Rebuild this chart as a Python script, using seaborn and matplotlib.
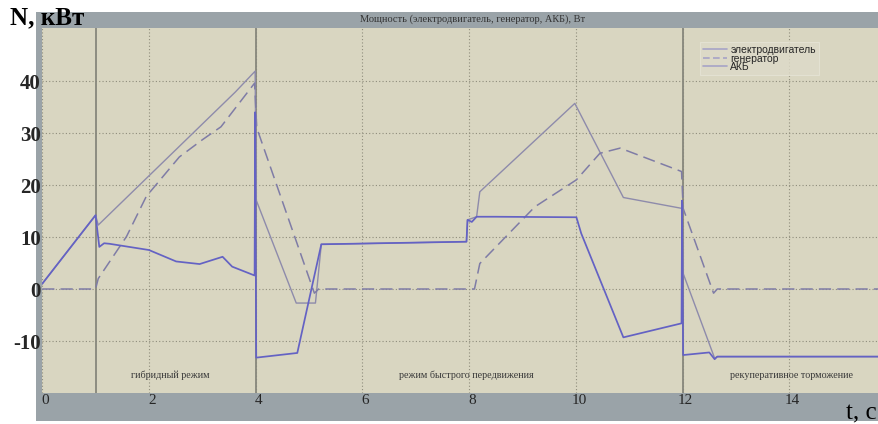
import pandas as pd
import matplotlib.pyplot as plt
import seaborn as sns
from matplotlib.patches import Rectangle
from matplotlib.lines import Line2D
import matplotlib.transforms as mtransforms

# ---- data ----
t_motor = [0, 1.0, 1.05, 3.62, 3.99, 4.01, 4.76, 5.12, 5.23, 7.95, 7.97, 8.14, 8.2,
           9.98, 10.89, 11.99, 12.01, 12.6, 12.65, 15.7]
n_motor = [1.0, 14.2, 12.3, 37.9, 41.9, 17.1, -2.7, -2.7, 8.6, 9.1, 13.3, 13.9, 18.7,
           35.7, 17.6, 15.5, 3.0, -13.3, -13.0, -13.0]

t_gen = [0, 1.0, 1.05, 1.58, 1.95, 2.57, 3.0, 3.35, 3.98, 4.02, 5.1, 5.18, 8.1, 8.2,
         9.23, 10.01, 10.45, 10.83, 11.98, 12.01, 12.58, 12.65, 15.7]
n_gen = [0, 0, 2.0, 10.1, 17.8, 25.4, 28.7, 31.2, 39.6, 31.0, -0.8, 0, 0, 4.9,
         15.8, 21.0, 26.1, 27.1, 22.6, 15.5, -0.8, 0, 0]

t_akb = [0, 1.0, 1.07, 1.16, 1.26, 2.0, 2.51, 2.95, 3.38, 3.56, 3.98, 3.99, 4.01, 4.78,
         5.23, 7.95, 7.97, 8.05, 8.14, 8.5, 10.01, 10.1, 10.89, 11.98, 11.99, 12.01,
         12.5, 12.6, 12.65, 15.7]
n_akb = [1.0, 14.2, 8.1, 8.8, 8.7, 7.5, 5.3, 4.8, 6.2, 4.3, 2.6, 34.0, -13.2, -12.3,
         8.6, 9.1, 13.3, 12.9, 13.9, 13.9, 13.8, 10.7, -9.3, -6.6, 17.0, -12.7,
         -12.2, -13.5, -13.0, -13.0]

series_names = ["электродвигатель", "генератор", "АКБ"]
phase_bounds = [1, 4, 12]
phase_labels = ["гибридный режим", "режим быстрого передвижения", "рекуперативное торможение"]
phase_label_t = [2.4, 7.95, 14.04]
x_ticks = [0, 2, 4, 6, 8, 10, 12, 14]
y_ticks = [-10, 0, 10, 20, 30, 40]

df = pd.concat([
    pd.DataFrame({"t": t_motor, "N": n_motor, "s": series_names[0]}),
    pd.DataFrame({"t": t_gen, "N": n_gen, "s": series_names[1]}),
    pd.DataFrame({"t": t_akb, "N": n_akb, "s": series_names[2]}),
])

# ---- style ----
sns.set_style("white")
plt.rcParams["font.family"] = ["Liberation Serif", "DejaVu Serif"]
plt.rcParams["axes.unicode_minus"] = False

BEIGE = "#d9d6c1"
GRAY = "#9aa3a8"

fig = plt.figure(figsize=(8.79, 4.24), dpi=100)
fig.patches.append(Rectangle((36 / 879, 3 / 424), 1 - 36 / 879, 409 / 424,
                             transform=fig.transFigure, facecolor=GRAY,
                             edgecolor="none", zorder=-10))
ax = fig.add_axes([42.2 / 879, 1 - 393 / 424, (879 - 42.2) / 879, 365 / 424])
ax.set_facecolor(BEIGE)
for sp in ax.spines.values():
    sp.set_visible(False)

ax.set_xlim(0, 15.68)
ax.set_ylim(-20, 50.2)
ax.set_xticks(x_ticks)
ax.set_yticks(y_ticks)
ax.grid(True, color="#8f8d7c", lw=0.8, linestyle=(0, (1, 2)))
for b in phase_bounds:
    ax.axvline(b, color="#87877c", lw=1.3, zorder=1.5)

palette = {series_names[0]: "#8e8bab", series_names[1]: "#7f7ca6", series_names[2]: "#6462c4"}
sizes = {series_names[0]: 1.0, series_names[1]: 1.1, series_names[2]: 1.25}
dashes = {series_names[0]: "", series_names[1]: (8, 4), series_names[2]: ""}
sns.lineplot(data=df, x="t", y="N", hue="s", style="s", size="s",
             palette=palette, dashes=dashes, sizes=sizes,
             sort=False, estimator=None, legend=False, ax=ax, zorder=3)

ax.set_xlabel("")
ax.set_ylabel("")
ax.tick_params(length=0)
ax.tick_params(axis="y", pad=1, labelsize=15)
ax.tick_params(axis="x", pad=1, labelsize=11)
for lab in ax.get_yticklabels():
    lab.set_fontweight("bold")
shift = mtransforms.ScaledTranslation(3 / 100, 0, fig.dpi_scale_trans)
for lab in ax.get_xticklabels():
    lab.set_transform(lab.get_transform() + shift)

# phase captions
for txt, tx in zip(phase_labels, phase_label_t):
    ax.text(tx, -16.6, txt, ha="center", va="center", fontsize=7.3, color="#3a3a3a")

# legend
leg_color = "#a7a3c6"
handles = [Line2D([], [], color=leg_color, lw=1.2),
           Line2D([], [], color=leg_color, lw=1.2, dashes=(4, 2)),
           Line2D([], [], color=leg_color, lw=1.2)]
leg = ax.legend(handles, series_names, loc="upper left",
                bbox_to_anchor=((700 - 42.2) / 836.8, (393 - 42) / 365),
                prop={"family": "Liberation Sans", "size": 7.5},
                handlelength=2.3, handletextpad=0.3, labelspacing=-0.15,
                borderpad=0.3, borderaxespad=0, frameon=True, fancybox=False)
leg.get_frame().set_facecolor("#dedbc9")
leg.get_frame().set_edgecolor("#e6e4d6")
leg.get_frame().set_linewidth(0.8)

# texts around the frame
fig.text(10 / 879, 1 - 18 / 424, "N, кВт", fontsize=18, fontweight="bold",
         ha="left", va="center", color="black")
fig.text(473 / 879, 1 - 19 / 424, "Мощность (электродвигатель, генератор, АКБ), Вт",
         fontsize=7.5, ha="center", va="center", color="#333333")
fig.text(877 / 879, 1 - 413 / 424, "t, c", fontsize=18, ha="right", va="center",
         color="black")

fig.savefig("out.png", dpi=100)
